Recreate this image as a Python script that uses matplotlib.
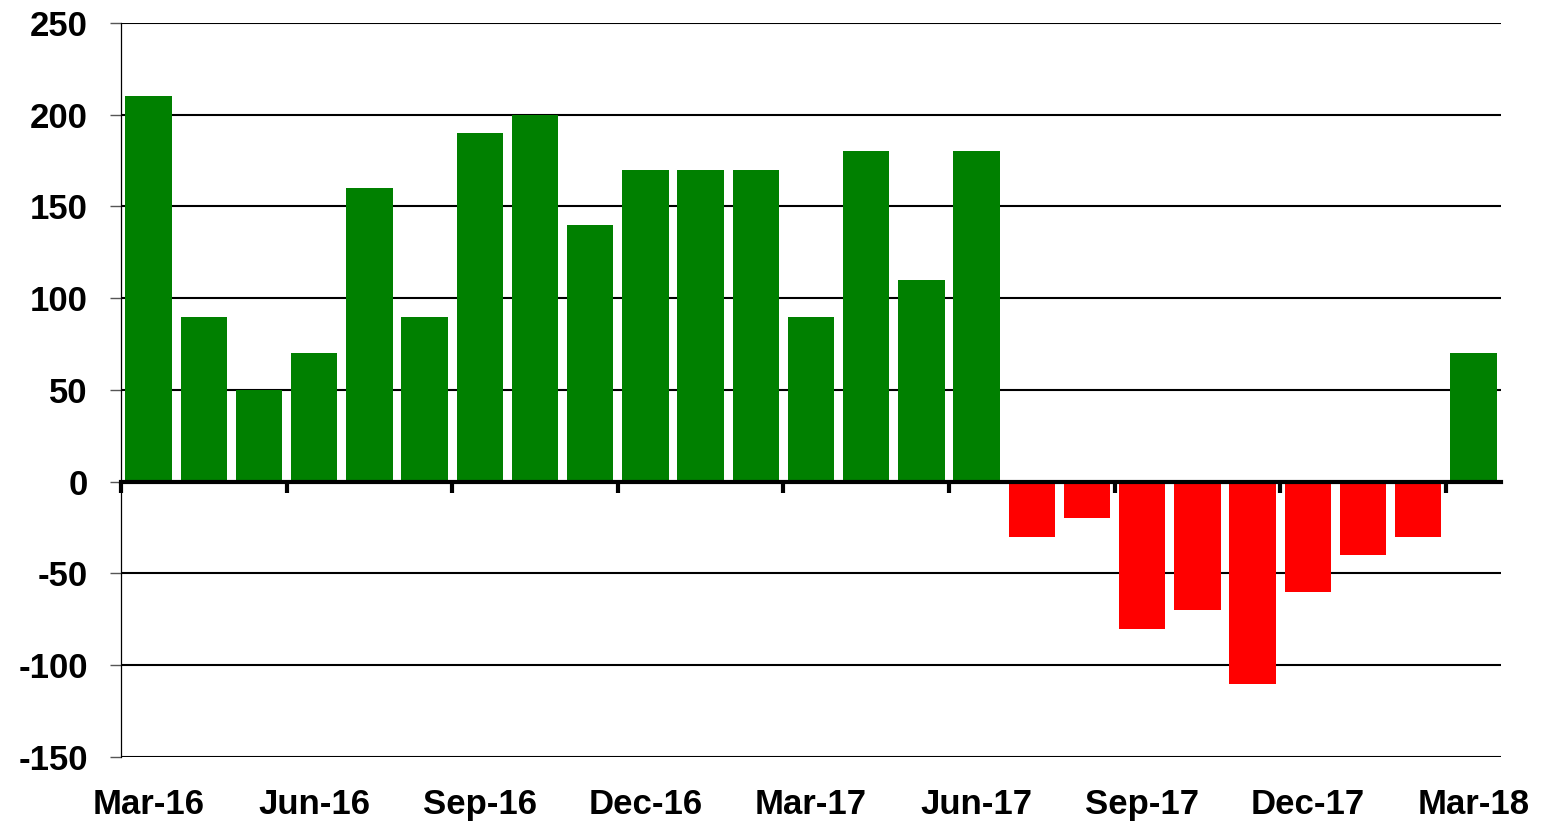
import matplotlib.pyplot as plt
import numpy as np

months = ["Mar-16", "Apr-16", "May-16", "Jun-16", "Jul-16", "Aug-16", "Sep-16",
          "Oct-16", "Nov-16", "Dec-16", "Jan-17", "Feb-17", "Mar-17", "Apr-17",
          "May-17", "Jun-17", "Jul-17", "Aug-17", "Sep-17", "Oct-17", "Nov-17",
          "Dec-17", "Jan-18", "Feb-18", "Mar-18"]
values = [210, 90, 50, 70, 160, 90, 190, 200, 140, 170, 170, 170, 90, 180,
          110, 180, -30, -20, -80, -70, -110, -60, -40, -30, 70]
y_ticks = [-150, -100, -50, 0, 50, 100, 150, 200, 250]

plt.rcParams['font.family'] = ['Liberation Sans', 'DejaVu Sans']
plt.rcParams['font.weight'] = 'bold'
plt.rcParams['axes.unicode_minus'] = False

fig = plt.figure(figsize=(15.47, 8.21), dpi=100)
ax = fig.add_axes([121/1547, 1 - 757/821, 1380/1547, 734/821])

x = np.arange(len(values))
colors = ['#008000' if v >= 0 else '#FF0000' for v in values]
ax.bar(x, values, width=0.84, color=colors, zorder=2)

ax.set_xlim(-0.5, len(values) - 0.5)
ax.set_ylim(-150, 250)

# horizontal gridlines
ax.set_yticks(y_ticks)
ax.yaxis.grid(True, color='black', linewidth=1.5, zorder=1)
ax.set_axisbelow(True)
ax.tick_params(axis='y', labelsize=25, length=8, width=1, color='#555555', pad=16)

# spines
ax.spines['top'].set_visible(False)
ax.spines['right'].set_visible(False)
ax.spines['left'].set_linewidth(0.9)
ax.spines['bottom'].set_position(('data', 0))
ax.spines['bottom'].set_linewidth(3)
ax.spines['bottom'].set_zorder(3)

# tick marks at quarter boundaries on the zero line
ax.set_xticks(np.arange(-0.5, len(values) - 1, 3))
ax.set_xticklabels([])
ax.tick_params(axis='x', direction='out', length=8, width=3, color='black')

# month labels at the bottom
sec = ax.secondary_xaxis(0)
sec.set_xticks(x[::3], labels=months[::3])
sec.tick_params(axis='x', length=0, labelsize=25, pad=22)
sec.spines['bottom'].set_visible(False)

fig.savefig("out.png", dpi=100)
